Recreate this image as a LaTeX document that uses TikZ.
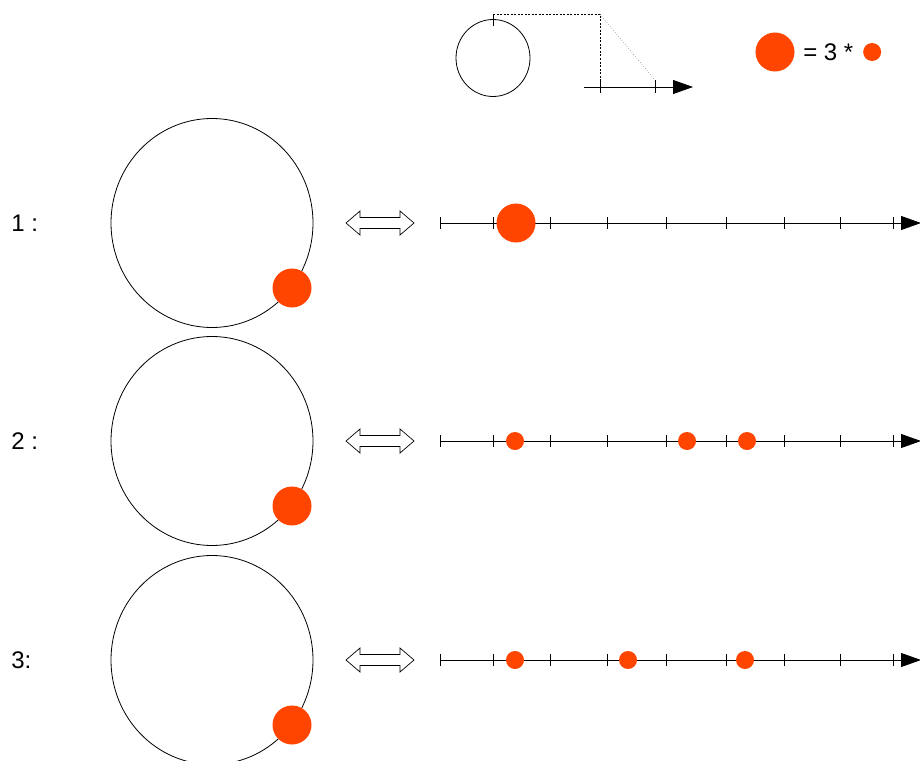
\documentclass[tikz,border=0pt]{standalone}
\usepackage{fontspec}
\setmainfont{Liberation Sans}
\usepackage{xcolor}
\usetikzlibrary{positioning, arrows.meta, calc, shapes.geometric}
\definecolor{dotorange}{HTML}{FF4500}

\begin{document}
\begin{tikzpicture}[x=1pt, y=-1pt, line width=0.8pt,
    wheel/.style={draw, ellipse, inner sep=0pt, minimum width=202pt, minimum height=209pt},
    bigdot/.style={fill=dotorange, circle, inner sep=0pt, minimum size=39pt},
    smalldot/.style={fill=dotorange, circle, inner sep=0pt, minimum size=18pt},
    axis/.style={-{Triangle[length=20pt, width=14pt]}},
    lbl/.style={font=\fontsize{24}{28}\selectfont, inner sep=0pt}]
    \useasboundingbox (0,0) rectangle (920,760);

    % inset: wheel unrolled onto the line
    \node[draw, ellipse, inner sep=0pt, minimum width=74pt, minimum height=77pt] (sc) at (493,58) {};
    \coordinate (top) at (493,14.5);
    \coordinate (corner) at (600,14.5);
    \coordinate (ia) at (584,87);
    \coordinate (ib) at (693,87);
    \draw (493,14) -- (493,26);
    \draw[dashed, line width=0.6pt, dash pattern=on 2pt off 1.5pt] (top) -- (corner) -- (corner |- ia);
    \draw[gray, dotted, line width=0.6pt] (corner) -- (655,80);
    \draw[axis] (ia) -- (ib);
    \foreach \t in {600, 655}
      \draw (\t,80) -- (\t,93);

    % legend
    \node[bigdot] (lbig) at (775,52) {};
    \node[lbl, right=8pt of lbig] (leq) {= 3 *};
    \node[smalldot, right=9pt of leq] (lsmall) {};

    % rows
    \foreach \r/\y/\lab in {1/223/{1 :}, 2/441/{2 :}, 3/660/{3:}} {
      \node[lbl, anchor=west] (n\r) at (11,\y) {\lab};
      \node[wheel] (w\r) at (212,\y) {};
      \node[bigdot] (p\r) at ($(w\r.center)+(80,65)$) {};
      % double arrow
      \draw[line width=0.7pt] (380,\y) ++(-34,0) -- ++(14,-12) -- ++(0,6.5) -- ++(40,0) -- ++(0,-6.5)
        -- ++(14,12) -- ++(-14,12) -- ++(0,-6.5) -- ++(-40,0) -- ++(0,6.5) -- cycle;
      \coordinate (a\r) at (440,\y);
      \coordinate (b\r) at (921,\y);
      \draw[axis] (a\r) -- (b\r);
      \foreach \t in {440, 493, 550, 607, 666, 726, 784, 840, 893}
        \draw (\t,\y-6) -- (\t,\y+6);
    }

    % positions on the lines
    \node[bigdot] (q1) at (516,223) {};
    \foreach \x [count=\i] in {515, 687, 747}
      \node[smalldot] (q2\i) at (\x,441) {};
    \foreach \x [count=\i] in {515, 628, 745}
      \node[smalldot] (q3\i) at (\x,660) {};
\end{tikzpicture}
\end{document}
